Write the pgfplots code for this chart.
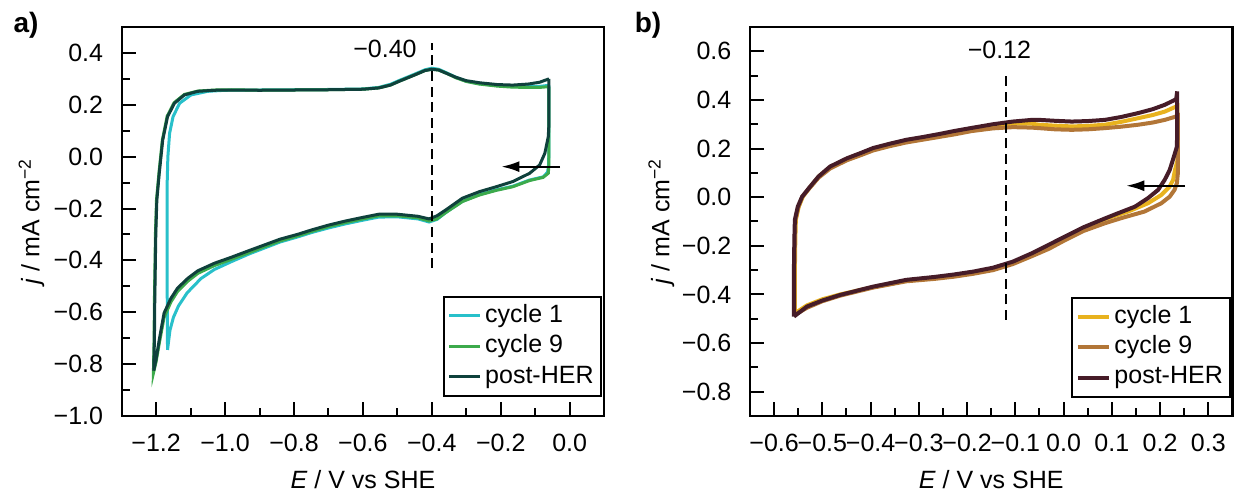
\documentclass[border=0pt]{standalone}
\usepackage{fontspec}
\setmainfont{Liberation Sans}
\usepackage{pgfplots}
\pgfplotsset{compat=1.18}
\usetikzlibrary{arrows.meta}

\definecolor{Lcyc1}{RGB}{40,192,202}
\definecolor{Lcyc9}{RGB}{60,170,75}
\definecolor{Lpost}{RGB}{15,65,60}
\definecolor{Rcyc1}{RGB}{232,178,30}
\definecolor{Rcyc9}{RGB}{178,118,55}
\definecolor{Rpost}{RGB}{70,28,40}

\pgfplotsset{
  cvstyle/.style={
    scale only axis, width=241.2pt, height=194.5pt,
    tick align=inside, xtick pos=left, ytick pos=left,
    major tick length=7pt, minor tick length=4pt,
    tick style={black, line width=1pt},
    axis line style={line width=1.1pt},
    minor x tick num=1, minor y tick num=1,
    yticklabel style={xshift=-5.8pt},
    xticklabel style={yshift=-5.5pt},
    xlabel style={at={(axis description cs:0.5,0)}, anchor=north, yshift=-23.5pt},
    legend cell align=left,
    legend image code/.code={\draw[##1] (0pt,0pt) -- (15.5pt,0pt);},
    legend style={anchor=south east, draw=black, line width=1pt,
      inner xsep=2pt, inner ysep=2pt,
      nodes={inner sep=1.8pt, text height=9pt, text depth=2.6pt}},
  }
}

\begin{document}
\begin{tikzpicture}[font=\fontsize{12.5}{15}\selectfont]
\path[use as bounding box] (0,0) rectangle (618pt,245.5pt);

% ---------------- panel a ----------------
\begin{axis}[cvstyle, at={(60.85pt,37.5pt)}, anchor=south west,
  xmin=-1.3, xmax=0.1, ymin=-1.0, ymax=0.5,
  xtick={-1.2,-1.0,-0.8,-0.6,-0.4,-0.2,0.0},
  xticklabels={−1.2,−1.0,−0.8,−0.6,−0.4,−0.2,0.0},
  ytick={-1.0,-0.8,-0.6,-0.4,-0.2,0.0,0.2,0.4},
  yticklabels={−1.0,−0.8,−0.6,−0.4,−0.2,0.0,0.2,0.4},
  xlabel={\textit{E} / V vs SHE},
  ylabel={\textit{j} / mA cm\textsuperscript{−2}},
  ylabel style={at={(axis description cs:-0.145,0.5)}, anchor=south},
  legend style={at={(0.996,0.049)}},
]
\addplot[Lcyc1, line width=1.5pt] coordinates {
(-0.060,0.275) (-0.060,0.040) (-0.061,-0.030) (-0.064,-0.060) (-0.077,-0.078)
(-0.116,-0.090) (-0.165,-0.114) (-0.213,-0.128) (-0.262,-0.146) (-0.311,-0.172)
(-0.359,-0.215) (-0.385,-0.242) (-0.408,-0.252) (-0.440,-0.240) (-0.500,-0.232)
(-0.554,-0.233) (-0.600,-0.245) (-0.650,-0.259) (-0.700,-0.275) (-0.750,-0.293)
(-0.788,-0.309) (-0.840,-0.329) (-0.885,-0.352) (-0.930,-0.375) (-0.982,-0.405)
(-1.031,-0.435) (-1.070,-0.470) (-1.110,-0.525) (-1.135,-0.575) (-1.150,-0.620)
(-1.160,-0.670) (-1.167,-0.745) (-1.168,-0.500) (-1.168,-0.100) (-1.166,0.000)
(-1.161,0.090) (-1.151,0.154) (-1.132,0.206) (-1.099,0.238) (-1.050,0.252)
(-1.000,0.256) (-0.900,0.257) (-0.800,0.258) (-0.700,0.259) (-0.600,0.261)
(-0.554,0.267) (-0.520,0.279) (-0.496,0.293) (-0.450,0.318) (-0.420,0.335)
(-0.400,0.341) (-0.380,0.337) (-0.355,0.322) (-0.330,0.306) (-0.300,0.291)
(-0.262,0.281) (-0.210,0.274) (-0.165,0.270) (-0.120,0.270) (-0.087,0.271)
(-0.060,0.275)
};
\addlegendentry{cycle 1}
\addplot[Lcyc9, line width=1.5pt] coordinates {
(-0.060,0.270) (-0.060,0.050) (-0.060,-0.030) (-0.062,-0.064) (-0.077,-0.080)
(-0.116,-0.092) (-0.165,-0.116) (-0.213,-0.130) (-0.262,-0.148) (-0.311,-0.173)
(-0.359,-0.215) (-0.385,-0.240) (-0.408,-0.248) (-0.440,-0.236) (-0.500,-0.228)
(-0.554,-0.228) (-0.600,-0.240) (-0.650,-0.254) (-0.700,-0.270) (-0.750,-0.289)
(-0.788,-0.305) (-0.840,-0.325) (-0.885,-0.347) (-0.930,-0.370) (-0.982,-0.396)
(-1.031,-0.420) (-1.079,-0.450) (-1.108,-0.480) (-1.138,-0.520) (-1.157,-0.560)
(-1.177,-0.620) (-1.191,-0.720) (-1.200,-0.790) (-1.208,-0.835) (-1.206,-0.700)
(-1.205,-0.552) (-1.202,-0.295) (-1.199,-0.167) (-1.192,-0.064) (-1.182,0.064)
(-1.168,0.156) (-1.148,0.208) (-1.118,0.240) (-1.079,0.253) (-1.030,0.257)
(-0.982,0.258) (-0.900,0.256) (-0.800,0.257) (-0.700,0.258) (-0.600,0.260)
(-0.554,0.265) (-0.520,0.276) (-0.496,0.290) (-0.450,0.315) (-0.420,0.332)
(-0.400,0.337) (-0.380,0.334) (-0.355,0.320) (-0.330,0.304) (-0.300,0.290)
(-0.262,0.280) (-0.210,0.272) (-0.165,0.268) (-0.120,0.267) (-0.087,0.267)
(-0.060,0.270)
};
\addlegendentry{cycle 9}
\addplot[Lpost, line width=1.5pt] coordinates {
(-0.060,0.300) (-0.060,0.129) (-0.062,0.077) (-0.072,0.013) (-0.087,-0.032)
(-0.116,-0.064) (-0.165,-0.096) (-0.213,-0.116) (-0.262,-0.135) (-0.311,-0.160)
(-0.359,-0.205) (-0.385,-0.228) (-0.408,-0.240) (-0.440,-0.230) (-0.500,-0.222)
(-0.554,-0.222) (-0.600,-0.234) (-0.650,-0.248) (-0.700,-0.264) (-0.750,-0.283)
(-0.788,-0.299) (-0.840,-0.318) (-0.885,-0.340) (-0.930,-0.362) (-0.982,-0.388)
(-1.031,-0.411) (-1.079,-0.440) (-1.108,-0.469) (-1.138,-0.507) (-1.157,-0.546)
(-1.177,-0.603) (-1.191,-0.706) (-1.200,-0.780) (-1.207,-0.825) (-1.205,-0.700)
(-1.204,-0.552) (-1.201,-0.295) (-1.198,-0.167) (-1.191,-0.064) (-1.181,0.064)
(-1.167,0.154) (-1.147,0.206) (-1.118,0.238) (-1.079,0.252) (-1.030,0.256)
(-0.982,0.257) (-0.900,0.256) (-0.800,0.257) (-0.700,0.258) (-0.600,0.260)
(-0.554,0.265) (-0.520,0.276) (-0.496,0.290) (-0.450,0.315) (-0.420,0.332)
(-0.400,0.337) (-0.380,0.334) (-0.355,0.320) (-0.330,0.306) (-0.300,0.293)
(-0.262,0.285) (-0.210,0.278) (-0.165,0.276) (-0.120,0.280) (-0.087,0.287)
(-0.060,0.300)
};
\addlegendentry{post-HER}
\addplot[black, line width=1pt, dash pattern=on 5pt off 2.8pt, forget plot]
  coordinates {(-0.4,-0.43) (-0.4,0.437)};
\addplot[black, line width=1pt, -{Latex[length=9pt,width=5.5pt]}, forget plot]
  coordinates {(-0.028,-0.0385) (-0.198,-0.0385)};
\node[anchor=east, inner sep=0pt] at (axis cs:-0.443,0.415) {−0.40};
\end{axis}

% ---------------- panel b ----------------
\begin{axis}[cvstyle, at={(375pt,37.5pt)}, anchor=south west,
  xmin=-0.65, xmax=0.35, ymin=-0.9, ymax=0.7,
  xtick={-0.6,-0.5,-0.4,-0.3,-0.2,-0.1,0.0,0.1,0.2,0.3},
  xticklabels={−0.6,−0.5,−0.4,−0.3,−0.2,−0.1,0.0,0.1,0.2,0.3},
  ytick={-0.8,-0.6,-0.4,-0.2,0.0,0.2,0.4,0.6},
  yticklabels={−0.8,−0.6,−0.4,−0.2,0.0,0.2,0.4,0.6},
  xlabel={\textit{E} / V vs SHE},
  ylabel={\textit{j} / mA cm\textsuperscript{−2}},
  ylabel style={at={(axis description cs:-0.142,0.5)}, anchor=south},
  legend style={at={(0.998,0.047)}},
]
\addplot[Rcyc1, line width=2pt] coordinates {
(-0.557,-0.478) (-0.557,-0.300) (-0.556,-0.169) (-0.555,-0.093) (-0.549,-0.039)
(-0.540,0.004) (-0.526,0.040) (-0.506,0.088) (-0.482,0.126) (-0.449,0.158)
(-0.420,0.180) (-0.395,0.198) (-0.360,0.216) (-0.326,0.232) (-0.290,0.245)
(-0.257,0.256) (-0.227,0.267) (-0.190,0.280) (-0.146,0.294) (-0.105,0.302)
(-0.065,0.302) (-0.051,0.298) (-0.017,0.294) (0.017,0.291) (0.050,0.293)
(0.086,0.298) (0.120,0.310) (0.155,0.325) (0.185,0.338) (0.210,0.352)
(0.2335,0.373) (0.236,0.375) (0.236,0.150) (0.231,0.112) (0.227,0.071)
(0.220,0.044) (0.2026,0.009) (0.175,-0.025) (0.134,-0.059) (0.086,-0.090)
(0.040,-0.130) (0.000,-0.172) (-0.030,-0.205) (-0.065,-0.238) (-0.105,-0.270)
(-0.146,-0.295) (-0.187,-0.310) (-0.227,-0.322) (-0.267,-0.332) (-0.326,-0.344)
(-0.395,-0.370) (-0.463,-0.400) (-0.500,-0.420) (-0.532,-0.445) (-0.557,-0.478)
};
\addlegendentry{cycle 1}
\addplot[Rcyc9, line width=2pt] coordinates {
(-0.558,-0.485) (-0.558,-0.300) (-0.557,-0.169) (-0.556,-0.095) (-0.550,-0.042)
(-0.542,0.000) (-0.528,0.034) (-0.508,0.080) (-0.484,0.118) (-0.449,0.152)
(-0.420,0.173) (-0.395,0.192) (-0.360,0.210) (-0.326,0.225) (-0.290,0.237)
(-0.257,0.248) (-0.227,0.258) (-0.190,0.272) (-0.146,0.283) (-0.105,0.288)
(-0.065,0.286) (-0.051,0.284) (-0.017,0.279) (0.017,0.277) (0.050,0.279)
(0.086,0.284) (0.120,0.290) (0.155,0.298) (0.185,0.307) (0.210,0.318)
(0.2335,0.332) (0.237,0.335) (0.237,0.100) (0.235,0.058) (0.230,0.030)
(0.220,0.002) (0.2026,-0.025) (0.168,-0.059) (0.120,-0.086) (0.086,-0.107)
(0.040,-0.140) (0.000,-0.180) (-0.030,-0.212) (-0.065,-0.242) (-0.105,-0.275)
(-0.146,-0.300) (-0.187,-0.315) (-0.227,-0.327) (-0.267,-0.336) (-0.326,-0.346)
(-0.395,-0.372) (-0.463,-0.405) (-0.500,-0.428) (-0.532,-0.455) (-0.558,-0.485)
};
\addlegendentry{cycle 9}
\addplot[Rpost, line width=2pt] coordinates {
(-0.559,-0.491) (-0.559,-0.300) (-0.558,-0.169) (-0.557,-0.093) (-0.551,-0.039)
(-0.542,0.002) (-0.528,0.037) (-0.508,0.085) (-0.484,0.126) (-0.449,0.160)
(-0.420,0.182) (-0.395,0.202) (-0.360,0.220) (-0.326,0.236) (-0.290,0.248)
(-0.257,0.260) (-0.227,0.272) (-0.190,0.285) (-0.146,0.300) (-0.105,0.311)
(-0.065,0.318) (-0.051,0.318) (-0.017,0.314) (0.017,0.311) (0.050,0.313)
(0.086,0.318) (0.120,0.330) (0.155,0.346) (0.185,0.362) (0.210,0.380)
(0.2335,0.403) (0.2355,0.435) (0.2355,0.300) (0.235,0.208) (0.2266,0.153)
(0.220,0.112) (0.2096,0.071) (0.196,0.030) (0.175,-0.004) (0.148,-0.039)
(0.113,-0.066) (0.079,-0.093) (0.040,-0.125) (0.000,-0.165) (-0.025,-0.190)
(-0.065,-0.230) (-0.105,-0.265) (-0.146,-0.290) (-0.187,-0.306) (-0.227,-0.318)
(-0.267,-0.328) (-0.326,-0.340) (-0.395,-0.368) (-0.463,-0.402) (-0.500,-0.425)
(-0.532,-0.450) (-0.559,-0.491)
};
\addlegendentry{post-HER}
\addplot[black, line width=1pt, dash pattern=on 5pt off 2.8pt, forget plot]
  coordinates {(-0.12,-0.505) (-0.12,0.517)};
\addplot[black, line width=1pt, -{Latex[length=9pt,width=5.5pt]}, forget plot]
  coordinates {(0.252,0.047) (0.130,0.047)};
\node[inner sep=0pt] at (axis cs:-0.133,0.606) {−0.12};
\end{axis}

\node[font=\bfseries\fontsize{14}{16}\selectfont] at (13pt,233pt) {a)};
\node[font=\bfseries\fontsize{14}{16}\selectfont] at (324pt,233pt) {b)};
\end{tikzpicture}
\end{document}
